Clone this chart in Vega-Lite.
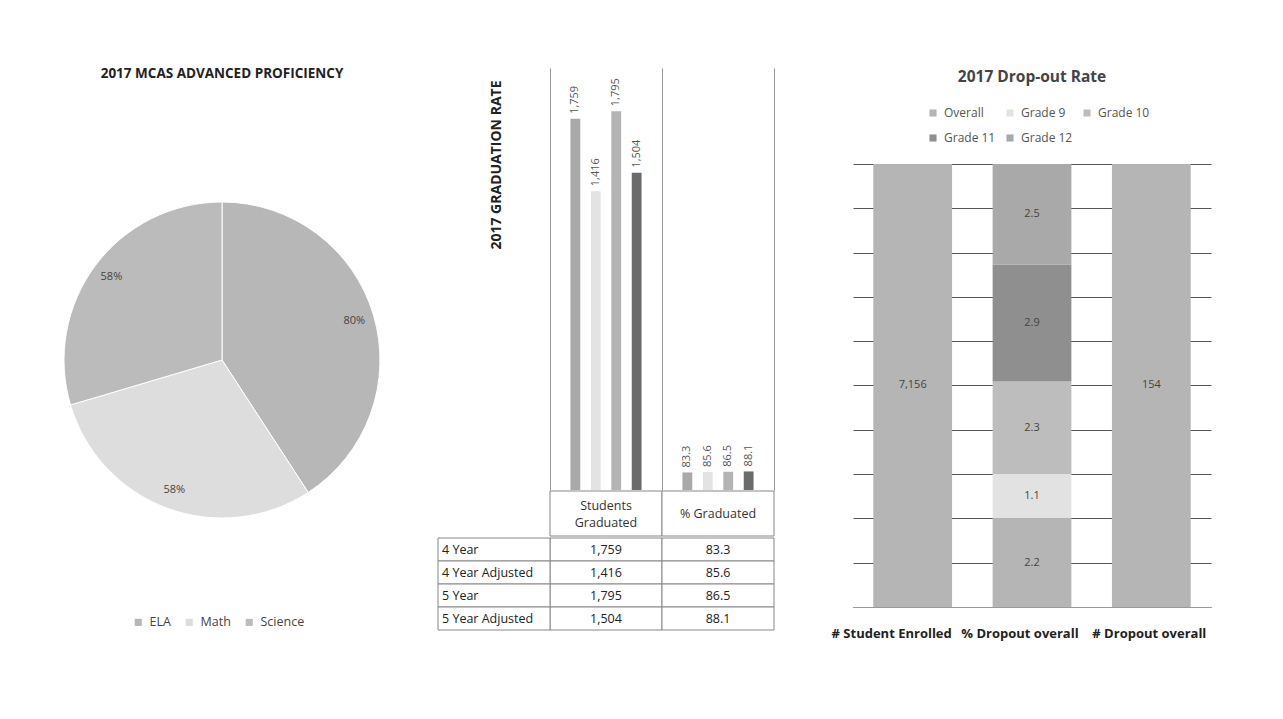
{
  "$schema": "https://vega.github.io/schema/vega-lite/v6.json",
  "background": "white",
  "padding": {"left": 62, "top": 66, "right": 5, "bottom": 5},
  "config": {"view": {"stroke": null}, "font": "Open Sans"},
  "resolve": {"scale": {"color": "independent"}, "legend": {"color": "independent"}},
  "datasets": {
    "grad": [
      {"year": "4 Year", "students": 1759, "pct": 83.3},
      {"year": "4 Year Adjusted", "students": 1416, "pct": 85.6},
      {"year": "5 Year", "students": 1795, "pct": 86.5},
      {"year": "5 Year Adjusted", "students": 1504, "pct": 88.1}
    ]
  },
  "spacing": 56,
  "hconcat": [
    {
      "spacing": 55,
      "resolve": {"scale": {"color": "independent"}, "legend": {"color": "independent"}},
      "hconcat": [
        {
          "width": 320,
          "height": 584,
          "title": {"text": "2017 MCAS ADVANCED PROFICIENCY", "fontSize": 13.5, "fontWeight": "bold", "color": "#222", "offset": -12, "anchor": "middle"},
          "data": {"values": [
            {"subject": "ELA", "share": 0.80},
            {"subject": "Math", "share": 0.58},
            {"subject": "Science", "share": 0.58}
          ]},
          "encoding": {
            "theta": {"field": "share", "type": "quantitative", "stack": true},
            "order": {"field": "subject", "type": "ordinal", "sort": "ascending"},
            "color": {
              "field": "subject", "type": "nominal",
              "scale": {"domain": ["ELA", "Math", "Science"], "range": ["#b7b7b7", "#dddddd", "#bbbbbb"]},
              "legend": {"orient": "none", "legendX": 70, "legendY": 548, "direction": "horizontal", "title": null, "symbolType": "square", "symbolSize": 50, "symbolStrokeWidth": 0, "labelFontSize": 12.5, "labelColor": "#444", "columnPadding": 12, "labelOffset": 5}
            }
          },
          "layer": [
            {"mark": {"type": "arc", "outerRadius": 158, "stroke": "#ffffff", "strokeWidth": 1}},
            {"mark": {"type": "text", "radius": 138, "fontSize": 11}, "encoding": {"detail": {"field": "subject"}, "text": {"field": "share", "type": "quantitative", "format": ".0%"}, "fill": {"value": "#444444"}}}
          ]
        },
        {
          "spacing": 0,
          "vconcat": [
            {
              "width": 336,
              "height": 422,
              "data": {"name": "grad"},
              "transform": [{"fold": ["students", "pct"], "as": ["measure", "value"]}],
              "encoding": {
                "x": {"field": "measure", "type": "nominal", "sort": null,
                  "scale": {"domain": ["label", "students", "pct"], "paddingInner": 0, "paddingOuter": 0},
                  "axis": {"title": null, "labels": false, "ticks": false, "domain": false, "grid": true, "gridColor": "#999", "bandPosition": 1, "values": ["label", "students", "pct"]}},
                "xOffset": {"field": "year", "type": "nominal", "sort": null, "scale": {"domain": ["4 Year", "4 Year Adjusted", "5 Year", "5 Year Adjusted"], "paddingInner": 0.52, "paddingOuter": 1.2}},
                "y": {"field": "value", "type": "quantitative", "stack": null, "scale": {"domain": [0, 2000]},
                  "axis": {"title": "2017 GRADUATION RATE", "labels": false, "ticks": false, "domain": false, "grid": false, "titleX": 58, "titleY": 12, "titleAlign": "right", "titleAngle": 270, "titleBaseline": "middle", "titleFontSize": 14, "titleFontWeight": "bold", "titleColor": "#222"}}
              },
              "layer": [
                {"mark": {"type": "bar"}, "encoding": {"color": {"field": "year", "type": "nominal", "scale": {"domain": ["4 Year", "4 Year Adjusted", "5 Year", "5 Year Adjusted"], "range": ["#a9a9a9", "#e3e3e3", "#b4b4b4", "#6b6b6b"]}, "legend": null}}},
                {"mark": {"type": "text", "angle": 270, "align": "left", "baseline": "middle", "dx": 5, "fontSize": 11, "color": "#555"}, "encoding": {"text": {"field": "value", "type": "quantitative", "format": ","}}}
              ]
            },
            {
              "width": 336,
              "height": 45,
              "data": {"values": [
                {"measure": "students", "head": "Students\nGraduated"},
                {"measure": "pct", "head": "% Graduated"}
              ]},
              "encoding": {
                "x": {"field": "measure", "type": "nominal", "sort": null, "scale": {"domain": ["label", "students", "pct"], "paddingInner": 0, "paddingOuter": 0}, "axis": null}
              },
              "layer": [
                {"mark": {"type": "rect", "fill": "white", "stroke": "#888", "strokeWidth": 1}},
                {"transform": [{"filter": "datum.measure == 'students'"}], "mark": {"type": "text", "lineBreak": "\n", "fontSize": 12.5, "color": "#333", "lineHeight": 17, "dy": -8}, "encoding": {"text": {"field": "head"}}},
                {"transform": [{"filter": "datum.measure == 'pct'"}], "mark": {"type": "text", "fontSize": 12.5, "color": "#333"}, "encoding": {"text": {"field": "head"}}}
              ]
            },
            {
              "width": 336,
              "height": 92,
              "data": {"name": "grad"},
              "layer": [
                {
                  "transform": [{"fold": ["students", "pct"], "as": ["measure", "value"]}],
                  "mark": {"type": "rect", "fill": "white", "stroke": "#888", "strokeWidth": 1},
                  "encoding": {
                    "x": {"field": "measure", "type": "nominal", "sort": null, "scale": {"domain": ["label", "students", "pct"], "paddingInner": 0, "paddingOuter": 0}, "axis": null},
                    "y": {"field": "year", "type": "nominal", "sort": null, "scale": {"domain": ["4 Year", "4 Year Adjusted", "5 Year", "5 Year Adjusted"], "paddingInner": 0, "paddingOuter": 0}, "axis": null}
                  }
                },
                {
                  "transform": [{"fold": ["students", "pct"], "as": ["measure", "value"]}],
                  "mark": {"type": "text", "fontSize": 12.5, "color": "#222"},
                  "encoding": {
                    "x": {"field": "measure", "type": "nominal", "sort": null},
                    "y": {"field": "year", "type": "nominal", "sort": null},
                    "text": {"field": "value", "type": "quantitative", "format": ","}
                  }
                },
                {
                  "mark": {"type": "rect", "fill": "white", "stroke": "#888", "strokeWidth": 1},
                  "encoding": {
                    "x": {"datum": "label", "type": "nominal"},
                    "y": {"field": "year", "type": "nominal", "sort": null}
                  }
                },
                {
                  "mark": {"type": "text", "align": "left", "dx": -52, "fontSize": 12.5, "color": "#222"},
                  "encoding": {
                    "x": {"datum": "label", "type": "nominal"},
                    "y": {"field": "year", "type": "nominal", "sort": null},
                    "text": {"field": "year"}
                  }
                }
              ]
            }
          ]
        }
      ]
    },
    {
      "width": 358,
      "height": 539,
      "title": {"text": "2017 Drop-out Rate", "fontSize": 15.5, "fontWeight": "bold", "color": "#444", "offset": -17, "anchor": "middle"},
      "data": {"values": [
        {"cat": "# Student Enrolled", "series": "Overall", "seq": 1, "value": 7156},
        {"cat": "% Dropout overall", "series": "Overall", "seq": 1, "value": 2.2},
        {"cat": "% Dropout overall", "series": "Grade 9", "seq": 2, "value": 1.1},
        {"cat": "% Dropout overall", "series": "Grade 10", "seq": 3, "value": 2.3},
        {"cat": "% Dropout overall", "series": "Grade 11", "seq": 4, "value": 2.9},
        {"cat": "% Dropout overall", "series": "Grade 12", "seq": 5, "value": 2.5},
        {"cat": "# Dropout overall", "series": "Overall", "seq": 1, "value": 154}
      ]},
      "encoding": {
        "x": {"field": "cat", "type": "nominal", "sort": null,
          "scale": {"domain": ["# Student Enrolled", "% Dropout overall", "# Dropout overall"], "paddingInner": 0.34, "paddingOuter": 0.17},
          "axis": {"title": null, "labelAngle": 0, "labelFontSize": 13, "labelFontWeight": "bold", "labelColor": "#222", "labelPadding": 20,
            "labelOffset": {"condition": [{"test": "datum.value == '# Student Enrolled'", "value": -21}, {"test": "datum.value == '% Dropout overall'", "value": -12}], "value": -2},
            "ticks": false, "domain": true, "domainColor": "#999", "labelOverlap": false, "grid": false}},
        "y": {"field": "value", "type": "quantitative", "stack": "normalize", "scale": {"domain": [0, 1.2167]},
          "axis": {"title": null, "labels": false, "ticks": false, "domain": false, "grid": true, "gridColor": "#555", "values": [0, 0.1, 0.2, 0.3, 0.4, 0.5, 0.6, 0.7, 0.8, 0.9, 1]}},
        "order": {"field": "seq", "type": "quantitative", "sort": "ascending"},
        "color": {"field": "series", "type": "nominal",
          "sort": ["Overall", "Grade 9", "Grade 10", "Grade 11", "Grade 12"],
          "scale": {"domain": ["Overall", "Grade 9", "Grade 10", "Grade 11", "Grade 12"], "range": ["#b5b5b5", "#e2e2e2", "#bdbdbd", "#8f8f8f", "#a9a9a9"]},
          "legend": {"orient": "none", "legendX": 74, "legendY": 39, "direction": "horizontal", "columns": 3, "title": null, "symbolType": "square", "symbolSize": 50, "symbolStrokeWidth": 0, "labelFontSize": 12, "labelColor": "#555", "rowPadding": 13, "columnPadding": 8, "labelOffset": 5}}
      },
      "layer": [
        {"mark": {"type": "bar"}},
        {"mark": {"type": "text", "fontSize": 11},
          "encoding": {
            "y": {"field": "value", "type": "quantitative", "stack": "normalize", "bandPosition": 0.5},
            "detail": {"field": "series"},
            "text": {"field": "value", "type": "quantitative", "format": ","},
            "fill": {"value": "#444444"}
          }}
      ]
    }
  ]
}
